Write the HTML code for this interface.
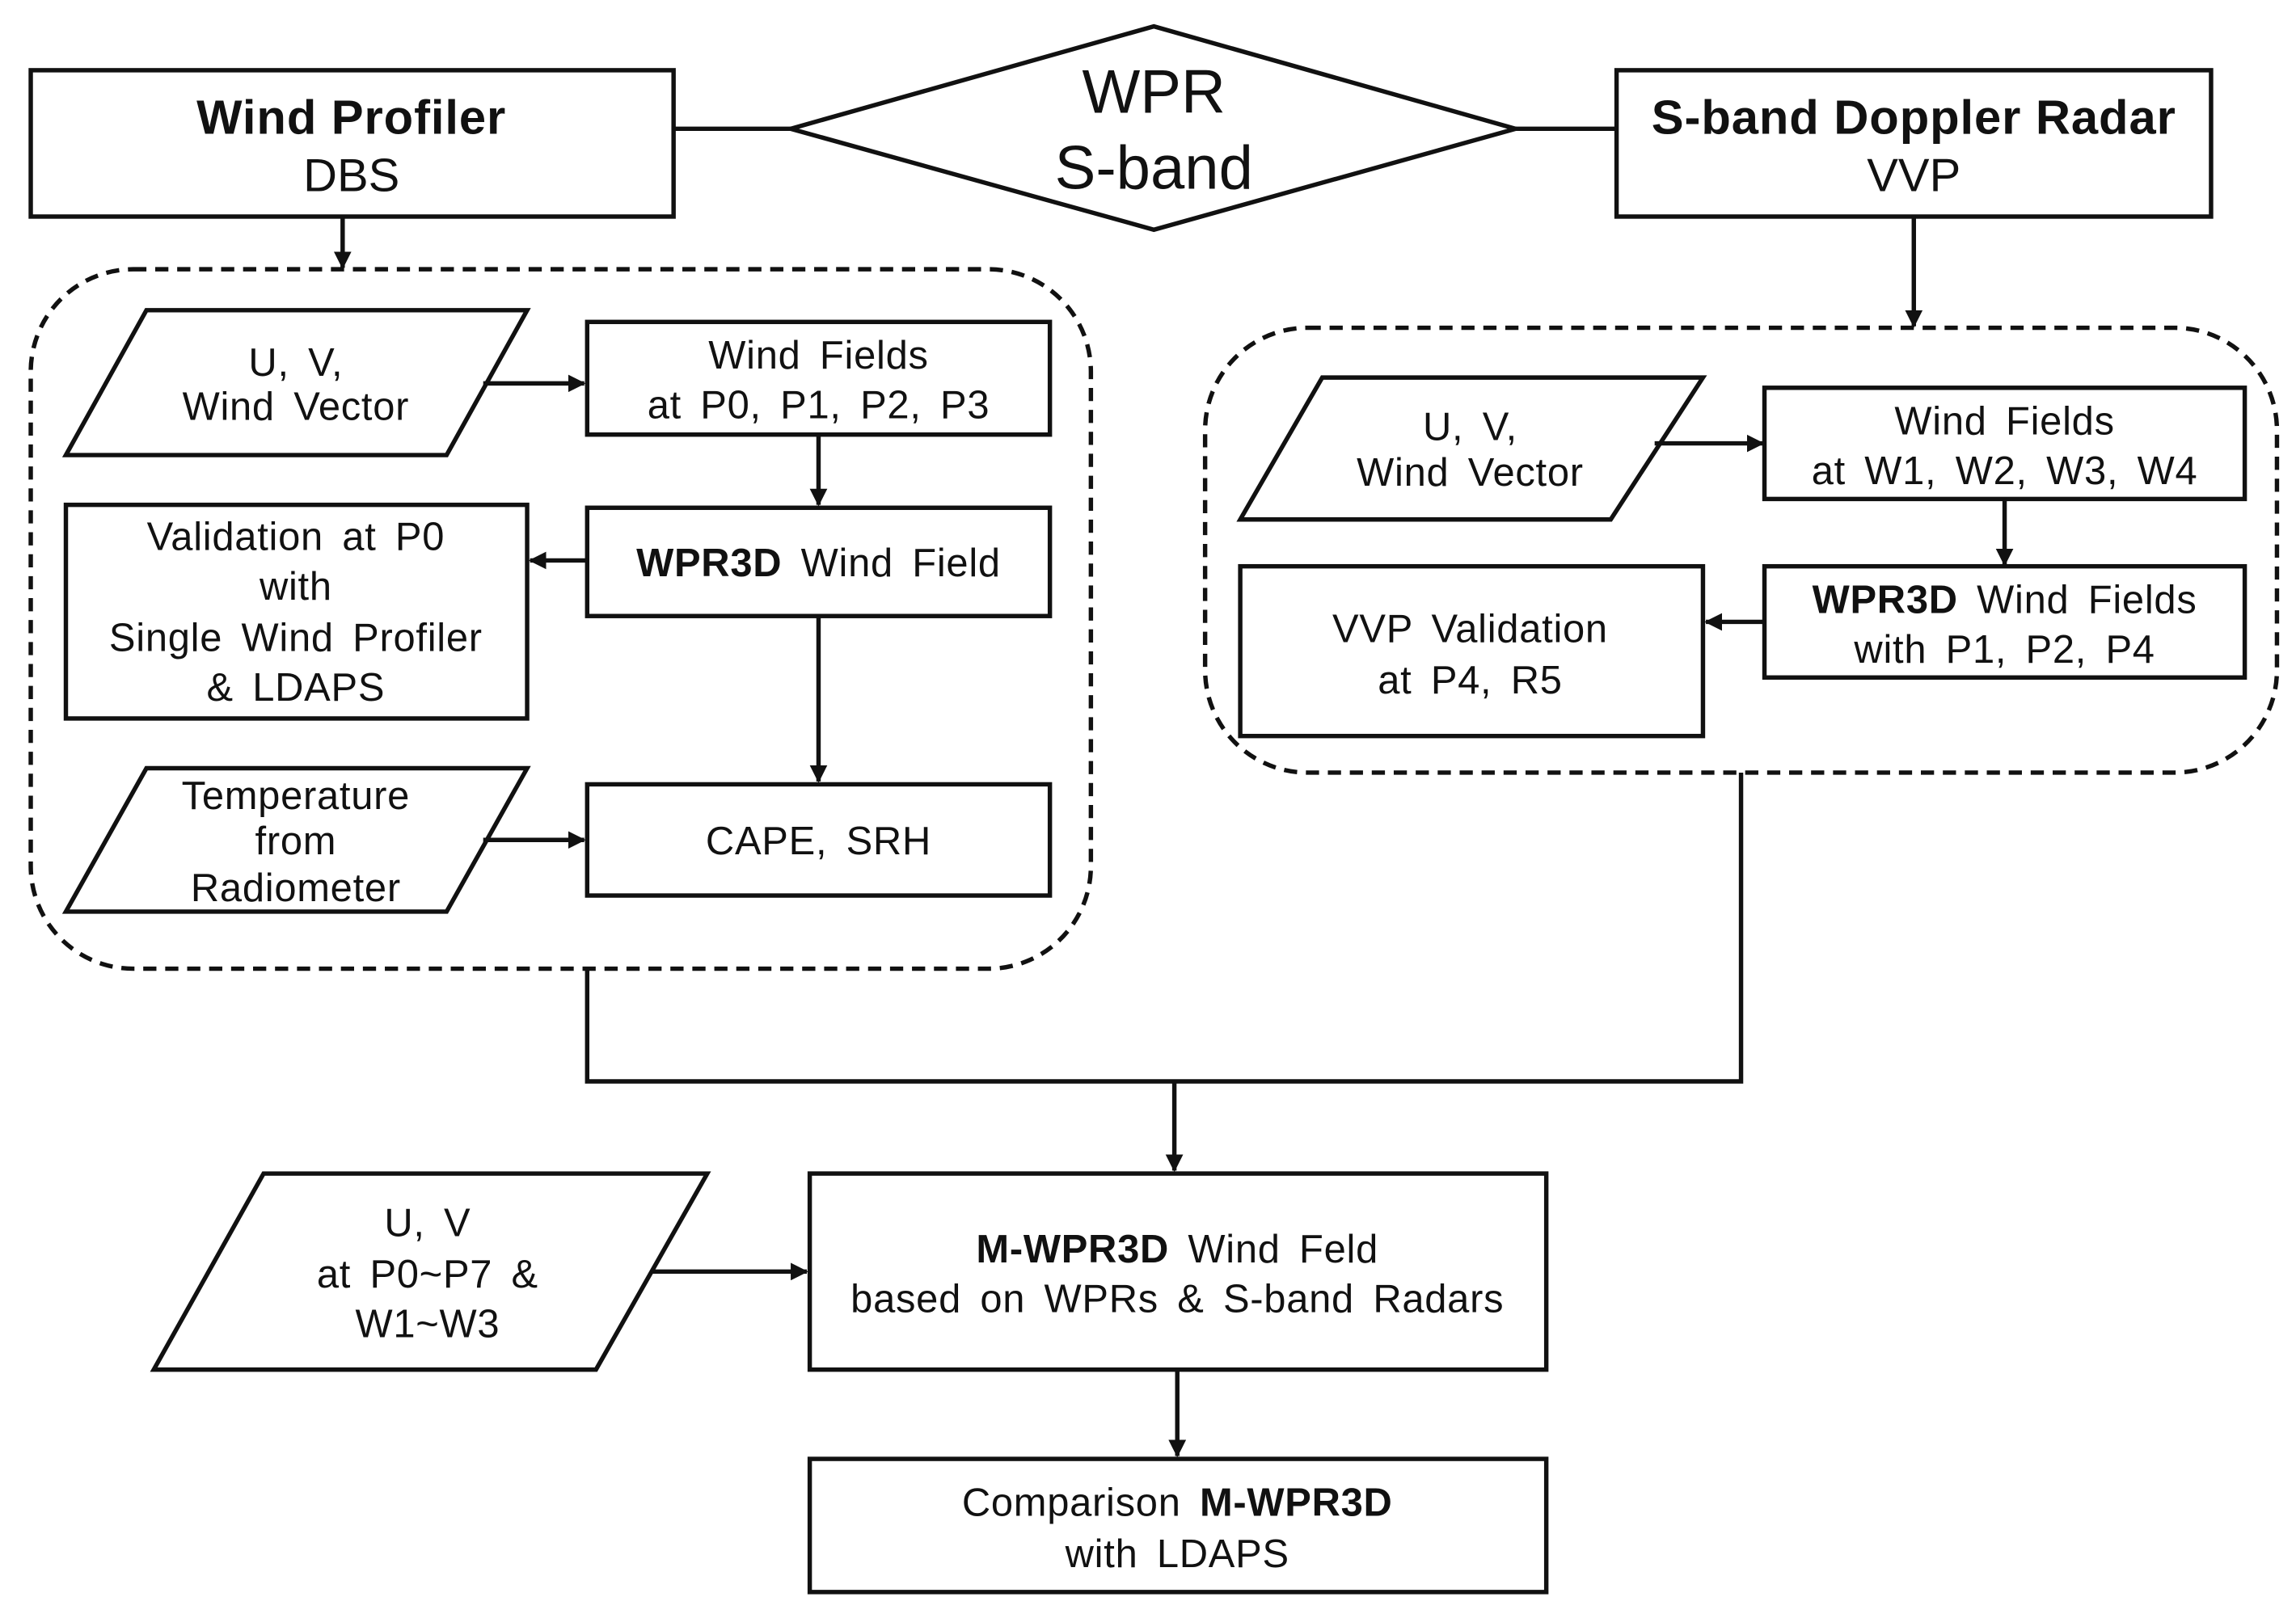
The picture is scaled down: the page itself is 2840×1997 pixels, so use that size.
<!DOCTYPE html>
<html><head><meta charset="utf-8"><style>
html,body{margin:0;padding:0;background:#fff;}
svg{display:block;}
text{font-family:"Liberation Sans","Noto Sans CJK KR",sans-serif;fill:#111;text-anchor:middle;dominant-baseline:central;}
.m{font-size:27px;word-spacing:5px;letter-spacing:0.4px;}
.b{font-weight:bold;}
</style></head><body>
<svg width="2840" height="1997" viewBox="0 0 1568 1103" preserveAspectRatio="none" xmlns="http://www.w3.org/2000/svg">
<defs><marker id="a" markerWidth="12" markerHeight="12" refX="11" refY="6" orient="auto" markerUnits="userSpaceOnUse"><path d="M0,0 L12,6 L0,12 z" fill="#111"/></marker></defs>
<g fill="#fff" stroke="#111" stroke-width="3">
<rect x="21" y="48" width="439" height="100"/>
<polygon points="540,88 788,18 1035,88 788,157"/>
<rect x="1104" y="48" width="406" height="100"/>
<rect x="21" y="184" width="724" height="478" rx="70" fill="none" stroke-dasharray="9,6"/>
<rect x="823" y="224" width="732" height="304" rx="70" fill="none" stroke-dasharray="9,6"/>
<polygon points="100,212 360,212 305,311 45,311"/>
<rect x="401" y="220" width="316" height="77"/>
<rect x="401" y="347" width="316" height="74"/>
<rect x="45" y="345" width="315" height="146"/>
<rect x="401" y="536" width="316" height="76"/>
<polygon points="100,525 360,525 305,623 45,623"/>
<polygon points="903,258 1163,258 1100,355 847,355"/>
<rect x="1205" y="265" width="328" height="76"/>
<rect x="1205" y="387" width="328" height="76"/>
<rect x="847" y="387" width="316" height="116"/>
<rect x="553" y="802" width="503" height="134"/>
<polygon points="180,802 483,802 407,936 105,936"/>
<rect x="553" y="997" width="503" height="91"/>
</g>
<g stroke="#111" stroke-width="3" fill="none">
<line x1="460" y1="88" x2="540" y2="88"/>
<line x1="1035" y1="88" x2="1104" y2="88"/>
<polyline points="401,662 401,739 1189,739 1189,528"/>
</g>
<g stroke="#111" stroke-width="3" fill="none" marker-end="url(#a)">
<line x1="234" y1="148" x2="234" y2="183"/>
<line x1="330" y1="262" x2="399" y2="262"/>
<line x1="559" y1="297" x2="559" y2="345"/>
<line x1="401" y1="383" x2="362" y2="383"/>
<line x1="559" y1="421" x2="559" y2="534"/>
<line x1="330" y1="574" x2="399" y2="574"/>
<line x1="1307" y1="148" x2="1307" y2="223"/>
<line x1="1130" y1="303" x2="1204" y2="303"/>
<line x1="1369" y1="341" x2="1369" y2="386"/>
<line x1="1205" y1="425" x2="1165" y2="425"/>
<line x1="802" y1="739" x2="802" y2="800"/>
<line x1="445" y1="869" x2="551" y2="869"/>
<line x1="804" y1="936" x2="804" y2="995"/>
</g>
<text x="240" y="80" style="font-size:33px;letter-spacing:0.5px" class="b">Wind Profiler</text>
<text x="240" y="120" style="font-size:32px">DBS</text>
<text x="788" y="63" style="font-size:42px">WPR</text>
<text x="788" y="115" style="font-size:42px">S-band</text>
<text x="1307" y="80" style="font-size:33px;letter-spacing:0.5px" class="b">S-band Doppler Radar</text>
<text x="1307" y="120" style="font-size:32px">VVP</text>
<text class="m" x="202" y="248">U, V,</text>
<text class="m" x="202" y="278">Wind Vector</text>
<text class="m" x="559" y="243">Wind Fields</text>
<text class="m" x="559" y="277">at P0, P1, P2, P3</text>
<text class="m" x="559" y="385"><tspan class="b">WPR3D</tspan> Wind Field</text>
<text class="m" x="202" y="367">Validation at P0</text>
<text class="m" x="202" y="401">with</text>
<text class="m" x="202" y="436">Single Wind Profiler</text>
<text class="m" x="202" y="470">&amp; LDAPS</text>
<text class="m" x="559" y="575">CAPE, SRH</text>
<text class="m" x="202" y="544">Temperature</text>
<text class="m" x="202" y="575">from</text>
<text class="m" x="202" y="607">Radiometer</text>
<text class="m" x="1004" y="292">U, V,</text>
<text class="m" x="1004" y="323">Wind Vector</text>
<text class="m" x="1369" y="288">Wind Fields</text>
<text class="m" x="1369" y="322">at W1, W2, W3, W4</text>
<text class="m" x="1369" y="410"><tspan class="b">WPR3D</tspan> Wind Fields</text>
<text class="m" x="1369" y="444">with P1, P2, P4</text>
<text class="m" x="1004" y="430">VVP Validation</text>
<text class="m" x="1004" y="465">at P4, R5</text>
<text class="m" x="804" y="854"><tspan class="b">M-WPR3D</tspan> Wind Feld</text>
<text class="m" x="804" y="888">based on WPRs &amp; S-band Radars</text>
<text class="m" x="292" y="836">U, V</text>
<text class="m" x="292" y="871">at P0~P7 &amp;</text>
<text class="m" x="292" y="905">W1~W3</text>
<text class="m" x="804" y="1027">Comparison <tspan class="b">M-WPR3D</tspan></text>
<text class="m" x="804" y="1062">with LDAPS</text>
</svg>
</body></html>
